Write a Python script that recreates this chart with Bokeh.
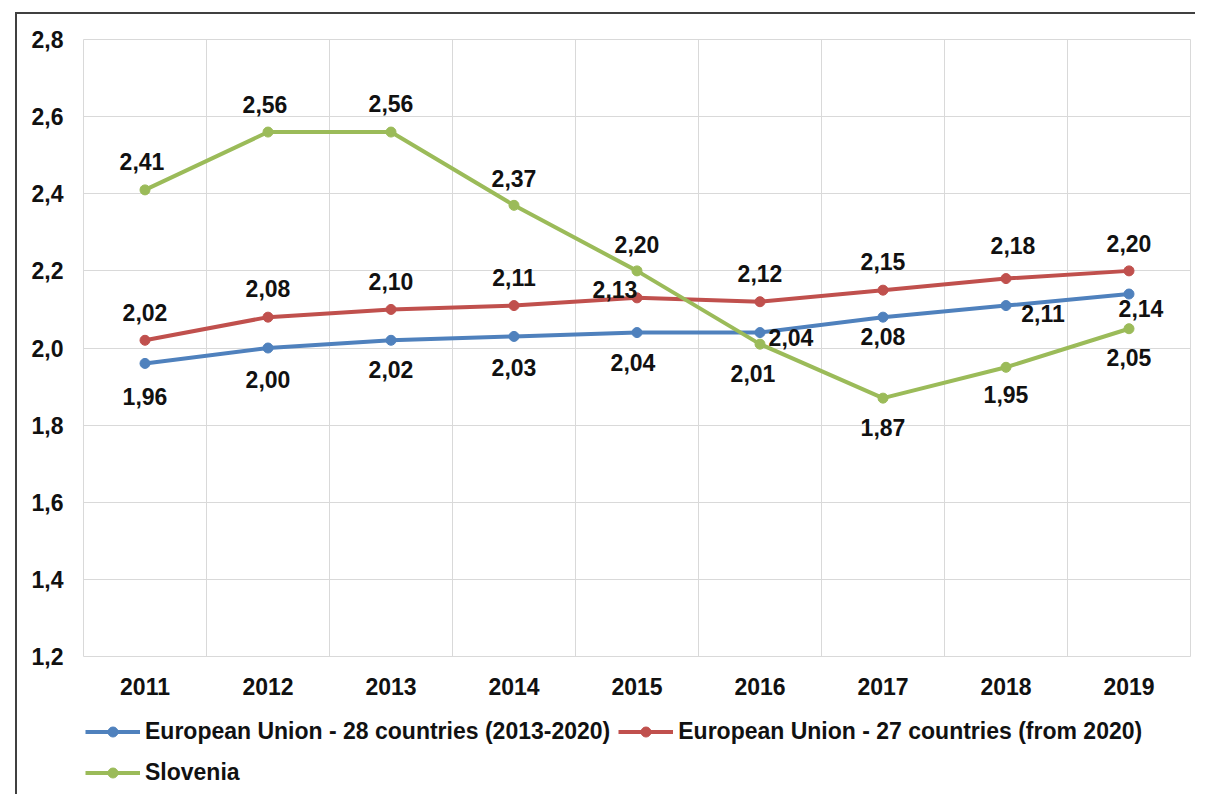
from bokeh.plotting import figure
from bokeh.layouts import column
from bokeh.models import (Range1d, FixedTicker, CustomJSTickFormatter, ColumnDataSource,
                          Legend, LegendItem)
from bokeh.core.properties import value
from bokeh.embed import file_html
from bokeh.resources import INLINE

# ---- data ----
years = [2011, 2012, 2013, 2014, 2015, 2016, 2017, 2018, 2019]
eu28 = [1.96, 2.00, 2.02, 2.03, 2.04, 2.04, 2.08, 2.11, 2.14]
eu27 = [2.02, 2.08, 2.10, 2.11, 2.13, 2.12, 2.15, 2.18, 2.20]
slovenia = [2.41, 2.56, 2.56, 2.37, 2.20, 2.01, 1.87, 1.95, 2.05]
y_ticks = [1.2, 1.4, 1.6, 1.8, 2.0, 2.2, 2.4, 2.6, 2.8]
series_names = ["European Union - 28 countries (2013-2020)",
                "European Union - 27 countries (from 2020)",
                "Slovenia"]

# ---- label placement (screen px offsets, styling only) ----
eu28_dx = [0, 0, 0, 0, -4, 31, 0, 37, 12]
eu28_dy = [33, 31, 29, 31, 30, 5, 19, 8, 14]
eu27_dx = [0, 0, 0, 0, -22, 0, 0, 7, 0]
eu27_dy = [-28, -29, -28, -28, -8, -28, -29, -33, -27]
slo_dx = [-3, -3, 0, 0, 0, -7, 0, 0, 0]
slo_dy = [-28, -28, -29, -27, -26, 29, 29, 27, 29]

colors = ["#4F81BD", "#C0504D", "#9BBB59"]
FONT = value("Liberation Sans")
FS = "23px"
BORDER = "2px solid #404040"


def fmt(v):
    return f"{v:.2f}".replace(".", ",")


# ---------------- main chart ----------------
p = figure(width=1180, height=686, output_backend="svg", toolbar_location=None,
           x_range=Range1d(years[0] - 0.5, years[-1] + 0.5),
           y_range=Range1d(y_ticks[0], y_ticks[-1]),
           min_border_left=66, min_border_right=7, min_border_top=25, min_border_bottom=44)
p.margin = (12, 0, 0, 15)
p.styles = {"border-top": BORDER, "border-left": BORDER}
p.background_fill_color = "white"
p.border_fill_color = "white"
p.outline_line_color = "#d9d9d9"

p.xaxis.ticker = FixedTicker(ticks=years)
p.yaxis.ticker = FixedTicker(ticks=y_ticks)
p.yaxis.formatter = CustomJSTickFormatter(code="return tick.toFixed(1).replace('.', ',');")
for ax in (p.xaxis[0], p.yaxis[0]):
    ax.axis_line_color = None
    ax.major_tick_line_color = None
    ax.minor_tick_line_color = None
    ax.major_label_text_font = "Liberation Sans"
    ax.major_label_text_font_style = "bold"
    ax.major_label_text_font_size = FS
    ax.major_label_text_color = "#111111"
p.yaxis.major_label_standoff = 14
p.xaxis.major_label_standoff = 15

p.xgrid.ticker = FixedTicker(ticks=[y - 0.5 for y in years] + [years[-1] + 0.5])
p.ygrid.ticker = FixedTicker(ticks=y_ticks)
for g in (p.xgrid[0], p.ygrid[0]):
    g.grid_line_color = "#d9d9d9"
    g.grid_line_width = 1

all_series = [eu28, eu27, slovenia]
sources = [ColumnDataSource(dict(x=years, y=vals)) for vals in all_series]
for src, c in zip(sources, colors):
    p.line("x", "y", source=src, line_color=c, line_width=4)
    p.scatter("x", "y", source=src, size=10, marker="circle", fill_color=c, line_color=c)

offsets = [(eu28_dx, eu28_dy), (eu27_dx, eu27_dy), (slo_dx, slo_dy)]
for vals, (dx, dy) in zip(all_series, offsets):
    src = ColumnDataSource(dict(x=years, y=vals, t=[fmt(v) for v in vals], dx=dx, dy=dy))
    p.text(x="x", y="y", text="t", x_offset="dx", y_offset="dy", source=src,
           text_align="center", text_baseline="middle", text_font=FONT,
           text_font_style="bold", text_font_size=FS, text_color="#111111")

# ---------------- legend strip ----------------
q = figure(width=1180, height=96, output_backend="svg", toolbar_location=None,
           x_range=Range1d(0, 1), y_range=Range1d(0, 1),
           x_axis_location=None, y_axis_location=None,
           min_border_left=0, min_border_right=0, min_border_top=0, min_border_bottom=0)
q.margin = (0, 0, 0, 15)
q.styles = {"border-left": BORDER}
q.grid.visible = False
q.outline_line_color = None
q.background_fill_color = "white"
q.border_fill_color = "white"

items = []
for src, c, name in zip(sources, colors, series_names):
    lr = q.line("x", "y", source=src, line_color=c, line_width=4)
    mr = q.scatter("x", "y", source=src, size=10, marker="circle", fill_color=c, line_color=c)
    items.append(LegendItem(label=name, renderers=[lr, mr]))


def make_legend(its, loc):
    return Legend(items=its, orientation="horizontal", location=loc,
                  glyph_width=55, glyph_height=25, label_height=25, label_standoff=5,
                  spacing=8, padding=0, margin=0, border_line_color=None,
                  background_fill_alpha=0, label_text_font="Liberation Sans",
                  label_text_font_style="bold", label_text_font_size=FS,
                  label_text_color="#111111")


q.add_layout(make_legend(items[:2], (2, 49)))
q.add_layout(make_legend(items[2:], (2, 8)))

layout = column(p, q, spacing=0)
open("out.html", "w").write(file_html(layout, INLINE))
